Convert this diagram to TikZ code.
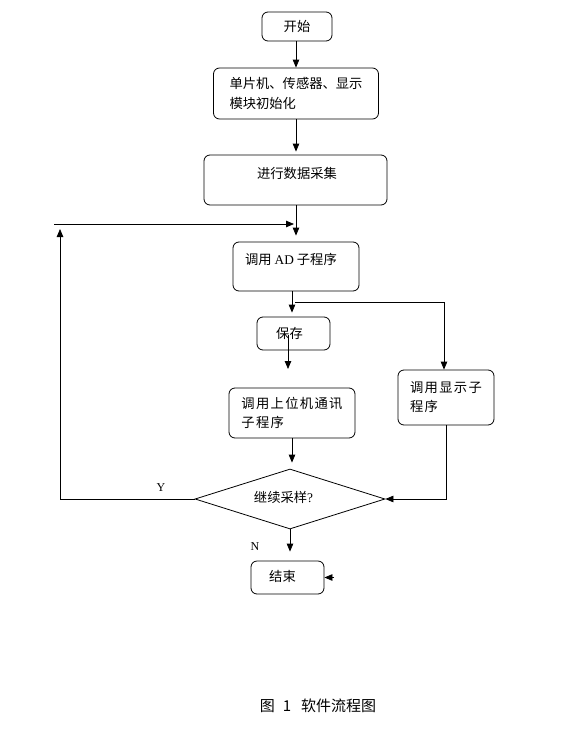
\documentclass[tikz,border=0pt]{standalone}
\usepackage{fontspec}
\setmainfont{Liberation Serif}
\newfontfamily\cjk{Noto Sans CJK SC}
\newfontfamily\cjkwide[LetterSpace=10]{Noto Sans CJK SC}
\usetikzlibrary{arrows.meta,shapes.geometric}

\begin{document}
\begin{tikzpicture}[x=1pt,y=-1pt,
  box/.style={draw, rounded corners=6pt, line width=0.8pt},
  txt/.style={font=\cjk\fontsize{13.3}{20}\selectfont, inner sep=0pt},
  wide/.style={font=\cjkwide\fontsize{13.3}{19}\selectfont, inner sep=0pt},
  arr/.style={-{Triangle[length=8pt,width=6.5pt]}, line width=0.8pt}]
\useasboundingbox (0,0) rectangle (583,744);
% boxes
\node[box, txt, minimum width=70pt, minimum height=29pt] (start) at (297,26.5) {开始};
\node[box, txt, align=left, minimum width=165pt, minimum height=51pt] (init) at (296,93.5) {单片机、传感器、显示\\模块初始化};
\node[box, minimum width=183pt, minimum height=50pt] (acq) at (295.5,180) {};
\node[txt] (acqtext) at (297,173) {进行数据采集};
\node[box, minimum width=126pt, minimum height=49pt] (ad) at (296,266.5) {};
\node[txt] (adtext) at (291,259) {调用 {\rmfamily AD} 子程序};
\node[box, minimum width=73pt, minimum height=33pt] (save) at (293.5,333.5) {};
\node[txt] (savetext) at (289.5,333) {保存};
\node[box, wide, align=left, minimum width=126pt, minimum height=50pt] (host) at (292,413) {调用上位机通讯\\子程序};
\node[box, wide, align=left, minimum width=96pt, minimum height=55pt] (disp) at (446,397.5) {调用显示子\\程序};
\node[draw, diamond, aspect=3.17, line width=0.8pt, inner sep=0pt, minimum width=190pt, minimum height=60pt] (dec) at (290,499) {};
\node[txt] (dectext) at (283.5,497) {继续采样{\rmfamily ?}};
\node[box, minimum width=73pt, minimum height=33pt] (end) at (287.5,577.5) {};
\node[txt] (endtext) at (282.5,576) {结束};
% free ends
\coordinate (loopin) at (54,224);
\coordinate (loopup) at (60,229);
\coordinate (split) at (295,302);
\coordinate (savetop) at (288,335);
\coordinate (savetip) at (288,369);
\coordinate (endin) at (334,577.5);
% connectors
\draw[arr] (init.north |- start.south) -- (init.north);
\draw[arr, shorten >=3pt] (init.south) -- (init.south |- acq.north);
\draw[arr, shorten >=6pt] (ad.north |- acq.south) -- (ad.north);
\draw[arr, shorten >=2pt] (loopin) -- (loopin -| ad.north);
\draw[arr] (dec.west) -| (loopup);
\draw[arr, shorten >=4pt] ([xshift=-4pt]ad.south) -- ([xshift=-4pt]ad.south |- save.north);
\draw[arr] (split) -| ([xshift=-2pt]disp.north);
\draw[arr] (savetop) -- (savetip);
\draw[arr, shorten >=6pt] (host.south) -- (host.south |- dec.north);
\draw[arr] (disp.south) |- (dec.east);
\draw[arr, shorten >=9pt] (dec.south) -- (dec.south |- end.north);
\draw[arr] (endin) -- (end.east);
% labels
\node[font=\fontsize{12}{14}\selectfont] (yes) at (161,488) {Y};
\node[font=\fontsize{12}{14}\selectfont] (no) at (255,547) {N};
\node[txt, font=\cjk\fontsize{15}{17}\selectfont] (caption) at (318,706) {图\hspace{8pt}1\hspace{10pt}软件流程图};
\end{tikzpicture}
\end{document}
